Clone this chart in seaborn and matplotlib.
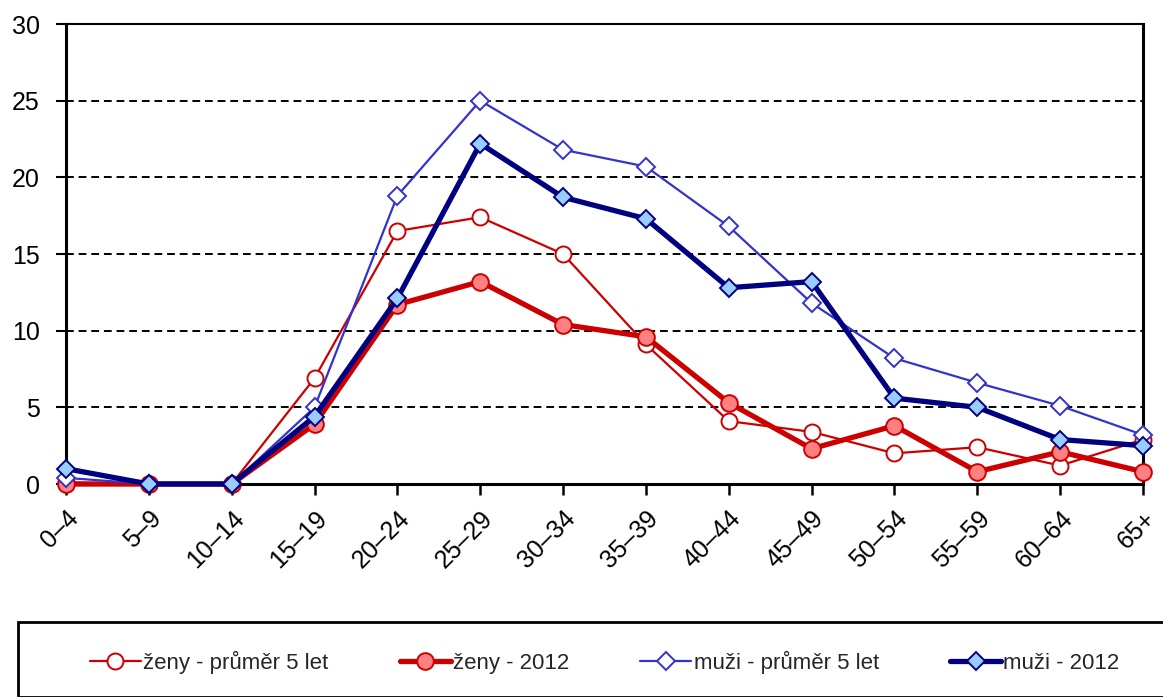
import matplotlib
matplotlib.use("Agg")
import matplotlib.pyplot as plt
import seaborn as sns
import pandas as pd
from matplotlib.patches import Rectangle

categories = ["0–4", "5–9", "10–14", "15–19", "20–24", "25–29", "30–34",
              "35–39", "40–44", "45–49", "50–54", "55–59", "60–64", "65+"]
zeny_prumer = [0.1, 0.0, 0.0, 6.9, 16.5, 17.4, 15.0, 9.1, 4.1, 3.4, 2.0, 2.4, 1.2, 2.9]
zeny_2012 = [0.0, 0.0, 0.0, 3.9, 11.7, 13.2, 10.4, 9.6, 5.3, 2.3, 3.8, 0.8, 2.1, 0.8]
muzi_prumer = [0.4, 0.0, 0.0, 5.0, 18.8, 25.0, 21.8, 20.7, 16.8, 11.8, 8.2, 6.6, 5.1, 3.2]
muzi_2012 = [1.0, 0.0, 0.0, 4.4, 12.1, 22.2, 18.7, 17.3, 12.8, 13.2, 5.6, 5.0, 2.9, 2.5]
series_names = ["ženy - průměr 5 let", "ženy - 2012", "muži - průměr 5 let", "muži - 2012"]
yticks = [0, 5, 10, 15, 20, 25, 30]

sns.set_style("white")
plt.rcParams["font.family"] = ["Liberation Sans", "DejaVu Sans"]
tick_fs = 18
leg_fs = 16

fig = plt.figure(figsize=(11.63, 6.97), dpi=100)
ax = fig.add_axes([66/1163, 1-484/697, (1143-66)/1163, (484-24)/697])

styles = [
    dict(color="#CC0000", lw=1.6, marker="o", ms=11.5, mfc="white", mec="#CC0000", mew=1.4, zorder=3),
    dict(color="#CC0000", lw=3.8, marker="o", ms=12, mfc="#FF8080", mec="#CC0000", mew=1.4, zorder=4),
    dict(color="#3333CC", lw=1.6, marker="D", ms=9, mfc="white", mec="#3333CC", mew=1.4, zorder=5),
    dict(color="#000080", lw=3.8, marker="D", ms=9, mfc="#99CCFF", mec="#000080", mew=1.4, zorder=6),
]
xs = list(range(len(categories)))
data = [zeny_prumer, zeny_2012, muzi_prumer, muzi_2012]
for name, vals, st in zip(series_names, data, styles):
    df = pd.DataFrame({"x": xs, "y": vals})
    sns.lineplot(data=df, x="x", y="y", ax=ax, color=st["color"], linewidth=st["lw"],
                 marker=st["marker"], markersize=st["ms"], markerfacecolor=st["mfc"],
                 markeredgecolor=st["mec"], markeredgewidth=st["mew"], zorder=st["zorder"],
                 clip_on=False, label=name)
handles, labels = ax.get_legend_handles_labels()
if ax.get_legend():
    ax.get_legend().remove()

ax.set_xlim(0, 13)
ax.set_ylim(0, 30)
ax.set_yticks(yticks)
ax.set_yticklabels([str(v) for v in yticks], fontsize=tick_fs)
ax.set_xticks(xs)
ax.set_xticklabels(categories, fontsize=tick_fs, rotation=45, ha="right", rotation_mode="anchor")
ax.set_xlabel("")
ax.set_ylabel("")
for y in yticks[1:]:
    ax.axhline(y, color="black", lw=1.4, ls=(0, (4, 2.5)), zorder=1)
for sp in ax.spines.values():
    sp.set_visible(True)
    sp.set_color("black")
    sp.set_linewidth(1.5)
ax.spines["left"].set_linewidth(2.2)
ax.spines["bottom"].set_linewidth(2.2)
ax.spines["right"].set_linewidth(2.2)
ax.tick_params(axis="x", direction="out", length=8, width=1.8, pad=8, colors="black", bottom=True)
ax.tick_params(axis="y", direction="out", length=7, width=1.5, pad=12, colors="black", left=True)

# legend frame
fig.patches.append(Rectangle((18/1163, 0), 1.0, (697-622)/697, transform=fig.transFigure,
                             fill=False, edgecolor="black", lw=2.0))
fig.legend(handles, labels, loc="center", bbox_to_anchor=(0.52, 1-662/697), ncol=4,
           frameon=False, fontsize=leg_fs, handlelength=2.3, columnspacing=3.2, handletextpad=0.1)

fig.savefig("out.png", dpi=100)
